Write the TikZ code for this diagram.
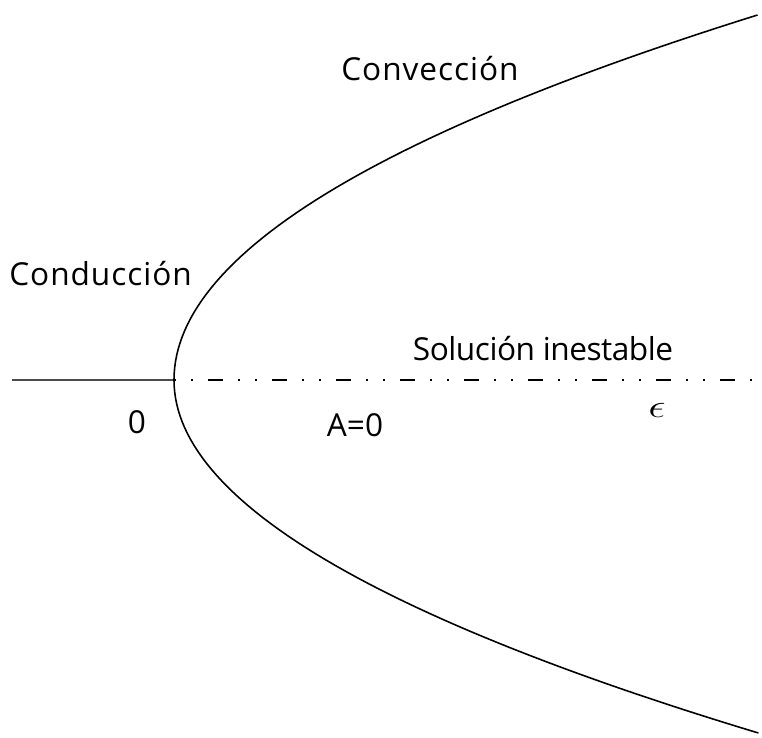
\documentclass[tikz,border=0pt]{standalone}
\usepackage{amsmath,amssymb}
\usepackage{fontspec}
\setmainfont{Open Sans}
\usepackage{tikz}
\usetikzlibrary{positioning}
\tikzset{
  lbl/.style={font=\fontsize{18}{20}\selectfont, inner sep=0pt, anchor=base},
  widelbl/.style={lbl, font=\fontsize{18}{20}\selectfont\addfontfeature{LetterSpace=3}},
  narrowlbl/.style={lbl, font=\fontsize{18}{20}\selectfont\addfontfeature{LetterSpace=-1.5}},
  branch/.style={line width=0.9pt, black},
  stable/.style={line width=1.5pt, black!70},
  unstable/.style={line width=1.1pt, black, dash pattern=on 0.04cm off 0.30cm on 0.04cm off 0.30cm on 0.3cm off 0.3cm}
}
\begin{document}
\begin{tikzpicture}[x={(0.02cm,0)}, y={(0,-0.02cm)}]
  \useasboundingbox (0,0) rectangle (762,738);

  \coordinate (left) at (12,380);
  \coordinate (vertex) at (174,380);
  \coordinate (right) at (752,380);

  \draw[stable] (left) -- (vertex);
  \draw[unstable] (vertex) -- (right);

  \draw[branch] plot[domain=3.65:0, samples=60] ({174+43.8*\x*\x},{380-100*\x})
    -- plot[domain=0:3.53, samples=60] ({174+46.9*\x*\x},{380+100*\x});

  \node[widelbl, anchor=base west] (conv) at (341,80) {Convección};
  \node[widelbl, anchor=base west] (cond) at (9,285) {Conducción};
  \node[narrowlbl] (inest) at (543,360) {Solución inestable};
  \node[lbl] (zero) at (137,433) {0};
  \node[lbl] (azero) at (355,436) {A=0};
  \node[lbl, font=\fontsize{24}{26}\selectfont] (eps) at (657,417) {\scalebox{1}[0.75]{$\epsilon$}};
\end{tikzpicture}
\end{document}
